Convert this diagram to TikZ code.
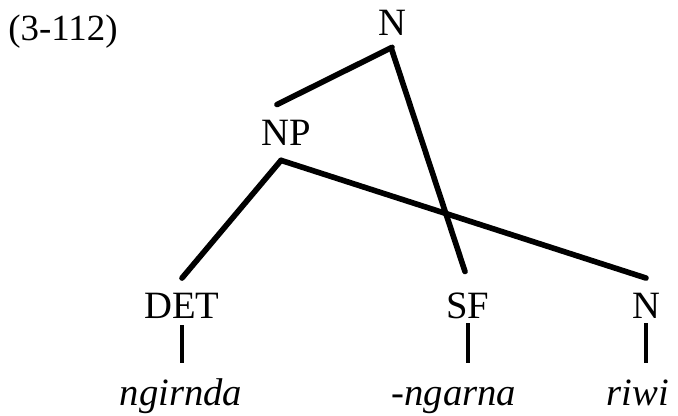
\documentclass[tikz,border=0pt]{standalone}
\usepackage{fontspec}
\setmainfont{Liberation Serif}
\usetikzlibrary{positioning}

\begin{document}
\begin{tikzpicture}[
  cat/.style={inner sep=0pt, anchor=base, text height=14pt, text depth=0pt,
              font=\fontsize{22}{26}\selectfont},
  word/.style={cat, text depth=5pt, font=\fontsize{22}{26}\selectfont\itshape},
  branch/.style={line width=3.2pt, line cap=round},
  stem/.style={line width=2.5pt}
]
  \useasboundingbox (0,0) rectangle (13.56,8.30);
  \node[cat, anchor=base west, font=\fontsize{21}{25}\selectfont] (ex) at (0.16, 7.50) {(3-112)};
  % categories
  \node[cat] (Ntop) at (7.84, 7.60) {N};
  \node[cat] (NP) at (5.72, 5.40) {NP};
  \node[cat] (DET) at (3.64, 1.94) {DET};
  \node[cat] (SF) at (9.36, 1.94) {SF};
  \node[cat] (Nr) at (12.92, 1.94) {N};
  % words
  \node[word] (ngirnda) at (3.62, 0.20) {ngirnda};
  \node[word] (ngarna) at (9.08, 0.20) {-ngarna};
  \node[word] (riwi) at (12.76, 0.20) {riwi};
  % branches
  \draw[branch] ([yshift=-0.24cm]Ntop.south) -- ([shift={(-0.18,0.31)}]NP.north);
  \draw[branch] ([yshift=-0.30cm]Ntop.south) -- ([shift={(-0.06,0.43)}]SF.north);
  \draw[branch] ([shift={(-0.10,-0.30)}]NP.south) -- ([yshift=0.30cm]DET.north);
  \draw[branch] ([shift={(-0.10,-0.30)}]NP.south) -- ([yshift=0.30cm]Nr.north);
  \draw[stem] ([yshift=-0.14cm]DET.south) -- ([yshift=0.35cm]ngirnda.north -| DET.south);
  \draw[stem] ([yshift=-0.10cm]SF.south) -- ([yshift=0.35cm]ngarna.north -| SF.south);
  \draw[stem] ([yshift=-0.10cm]Nr.south) -- ([yshift=0.35cm]riwi.north -| Nr.south);
\end{tikzpicture}
\end{document}
